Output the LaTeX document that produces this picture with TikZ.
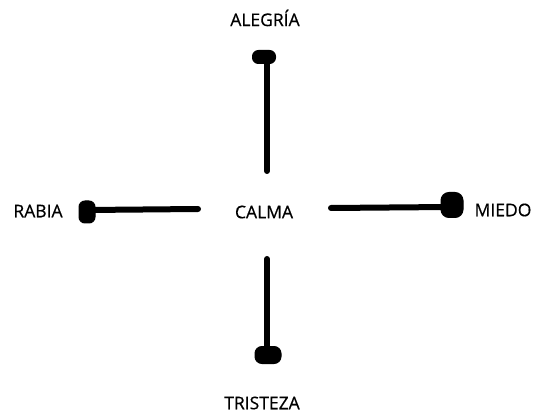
\documentclass[tikz,border=0pt]{standalone}
\usepackage{fontspec}
\setmainfont{Open Sans}
\newfontfamily\lblfont{Open Sans}[FakeBold=0.5]
\usetikzlibrary{shapes.geometric}
\begin{document}
\begin{tikzpicture}[x=1pt,y=-1pt,
  lbl/.style={font=\lblfont\fontsize{17.5}{19}\selectfont, text=black, inner sep=0pt},
  stick/.style={line width=6pt, line cap=round, black},
  blob/.style={fill=black, draw=black, line width=1pt, rounded corners=5pt, inner sep=0pt, minimum width=#1}]
\useasboundingbox (0,0) rectangle (533,414);
% labels
\node[lbl] (alegria) at (265,18) {ALEGRÍA};
\node[lbl] (rabia) at (38,211) {RABIA};
\node[lbl] (calma) at (264,212) {CALMA};
\node[lbl] (miedo) at (503,210) {MIEDO};
\node[lbl] (tristeza) at (262,403) {TRISTEZA};
% blobs
\node[blob=23pt, minimum height=13pt, rounded corners=6pt] (btop) at (264,57) {};
\node[blob=16pt, minimum height=22pt, rounded corners=6pt] (bleft) at (87,212) {};
\node[blob=22pt, minimum height=25pt, rounded corners=8pt] (bright) at (452,205) {};
\node[blob=26pt, minimum height=17pt, rounded corners=7pt] (bbot) at (268,355) {};
% stick ends
\coordinate (etop) at (267,171);
\coordinate (eleft) at (198,209);
\coordinate (eright) at (331,208);
\coordinate (ebot) at (267,259);
\draw[stick] (267,60) -- (etop);
\draw[stick] (88,210) -- (eleft);
\draw[stick] (448,207) -- (eright);
\draw[stick] (267,352) -- (ebot);
\end{tikzpicture}
\end{document}
